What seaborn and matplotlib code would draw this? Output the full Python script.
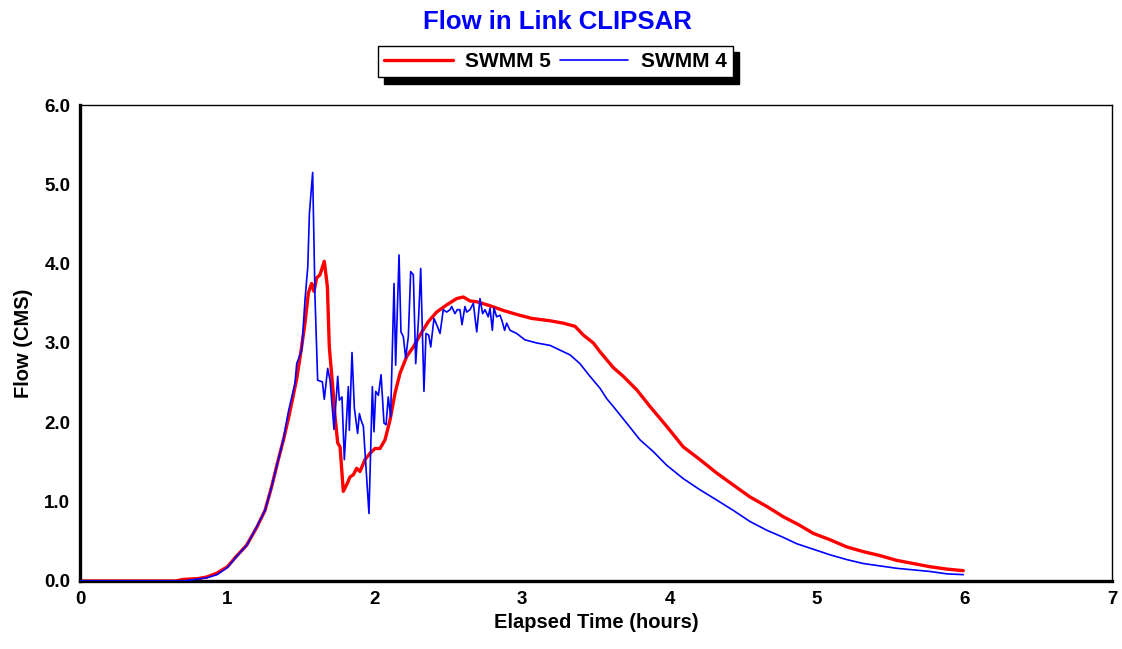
import numpy as np
import pandas as pd
import matplotlib
matplotlib.use("Agg")
import matplotlib.pyplot as plt
import seaborn as sns

# SWMM 5 flow (hours, CMS)
swmm5_t = [0.0, 0.65, 0.70, 0.80, 0.86, 0.93, 1.00, 1.06, 1.13, 1.20, 1.255, 1.30, 1.345,
           1.38, 1.42, 1.47, 1.50, 1.526, 1.549, 1.571, 1.587, 1.605, 1.628, 1.657, 1.678,
           1.691, 1.714, 1.730, 1.748, 1.764, 1.786, 1.813, 1.831, 1.854, 1.877, 1.899,
           1.933, 1.967, 2.001, 2.035, 2.069, 2.103, 2.137, 2.171, 2.216, 2.261, 2.306,
           2.363, 2.419, 2.487, 2.555, 2.600, 2.645, 2.691, 2.781, 2.871, 2.962, 3.064,
           3.188, 3.278, 3.358, 3.414, 3.482, 3.527, 3.572, 3.617, 3.685, 3.776, 3.866,
           3.979, 4.092, 4.205, 4.319, 4.431, 4.544, 4.658, 4.770, 4.874, 4.974, 5.087,
           5.200, 5.313, 5.426, 5.539, 5.652, 5.765, 5.879, 5.991]
swmm5_q = [0.0, 0.0, 0.02, 0.03, 0.05, 0.10, 0.18, 0.31, 0.45, 0.68, 0.89, 1.19, 1.53,
           1.78, 2.10, 2.55, 2.91, 3.25, 3.63, 3.75, 3.65, 3.82, 3.86, 4.03, 3.71,
           2.95, 2.45, 2.07, 1.74, 1.69, 1.13, 1.23, 1.31, 1.34, 1.42, 1.38,
           1.53, 1.61, 1.67, 1.67, 1.78, 2.03, 2.37, 2.62, 2.83, 2.95, 3.10,
           3.27, 3.39, 3.48, 3.56, 3.58, 3.53, 3.52, 3.47, 3.41, 3.36, 3.31,
           3.28, 3.25, 3.21, 3.10, 3.00, 2.89, 2.79, 2.69, 2.58, 2.41, 2.20,
           1.95, 1.69, 1.53, 1.36, 1.21, 1.06, 0.94, 0.81, 0.71, 0.60, 0.52,
           0.43, 0.37, 0.32, 0.26, 0.22, 0.18, 0.15, 0.13]

# SWMM 4 flow (hours, CMS)
swmm4_t = [0.0, 0.70, 0.78, 0.86, 0.93, 1.00, 1.063, 1.131, 1.198, 1.255, 1.300, 1.345,
           1.379, 1.413, 1.458, 1.470, 1.504, 1.526, 1.545, 1.556, 1.578, 1.594, 1.612,
           1.644, 1.657, 1.680, 1.696, 1.723, 1.748, 1.759, 1.777, 1.793, 1.820, 1.827,
           1.845, 1.861, 1.883, 1.895, 1.906, 1.922, 1.960, 1.983, 1.994, 2.006, 2.024,
           2.042, 2.062, 2.076, 2.091, 2.107, 2.130, 2.141, 2.164, 2.177, 2.193, 2.209,
           2.227, 2.243, 2.261, 2.277, 2.297, 2.311, 2.333, 2.347, 2.365, 2.379, 2.401,
           2.424, 2.442, 2.464, 2.487, 2.510, 2.521, 2.543, 2.559, 2.577, 2.591, 2.611,
           2.623, 2.645, 2.668, 2.691, 2.713, 2.731, 2.747, 2.769, 2.781, 2.797, 2.808,
           2.826, 2.849, 2.864, 2.880, 2.894, 2.917, 2.962, 3.018, 3.098, 3.188, 3.256,
           3.324, 3.391, 3.459, 3.527, 3.572, 3.617, 3.708, 3.798, 3.889, 3.979, 4.092,
           4.205, 4.319, 4.431, 4.544, 4.658, 4.770, 4.861, 4.974, 5.087, 5.200, 5.313,
           5.426, 5.539, 5.652, 5.765, 5.879, 5.991]
swmm4_q = [0.0, 0.0, 0.02, 0.04, 0.08, 0.17, 0.31, 0.45, 0.68, 0.89, 1.19, 1.53,
           1.78, 2.13, 2.49, 2.74, 2.91, 3.54, 3.96, 4.63, 5.15, 3.58, 2.53,
           2.51, 2.29, 2.68, 2.53, 1.91, 2.58, 2.28, 2.32, 1.53, 2.45, 1.90,
           2.88, 2.18, 1.86, 2.11, 2.03, 1.95, 0.85, 2.45, 1.88, 2.39, 2.34,
           2.60, 1.99, 1.97, 2.32, 2.07, 3.75, 2.72, 4.11, 3.14, 3.08, 2.81,
           3.08, 3.90, 3.86, 2.74, 3.33, 3.94, 2.39, 3.12, 3.10, 2.95, 3.31,
           3.21, 3.12, 3.42, 3.39, 3.42, 3.46, 3.37, 3.42, 3.42, 3.23, 3.46,
           3.39, 3.42, 3.50, 3.14, 3.56, 3.37, 3.42, 3.33, 3.44, 3.16, 3.44,
           3.33, 3.35, 3.27, 3.16, 3.25, 3.16, 3.12, 3.04, 3.00, 2.97, 2.91,
           2.85, 2.74, 2.58, 2.43, 2.30, 2.20, 1.99, 1.78, 1.63, 1.46, 1.29,
           1.15, 1.02, 0.89, 0.75, 0.64, 0.55, 0.47, 0.40, 0.33, 0.27, 0.22,
           0.19, 0.16, 0.14, 0.12, 0.09, 0.08]

x_ticks = [0, 1, 2, 3, 4, 5, 6, 7]
y_ticks = [0.0, 1.0, 2.0, 3.0, 4.0, 5.0, 6.0]

sns.set_style("white")
plt.rcParams['font.family'] = ['Liberation Sans', 'DejaVu Sans']
plt.rcParams['font.weight'] = 'bold'
plt.rcParams['text.color'] = 'black'
plt.rcParams['axes.labelcolor'] = 'black'
plt.rcParams['xtick.labelcolor'] = 'black'
plt.rcParams['ytick.labelcolor'] = 'black'

fig = plt.figure(figsize=(11.22, 6.49), dpi=100)
ax = fig.add_axes([0.0713, 0.1048, 0.9198, 0.7334])

sns.lineplot(x=swmm5_t, y=swmm5_q, ax=ax, color="#ff0000", linewidth=2.4,
             estimator=None, sort=False, label="SWMM 5", zorder=2)
sns.lineplot(x=swmm4_t, y=swmm4_q, ax=ax, color="#0000ff", linewidth=1.2,
             estimator=None, sort=False, label="SWMM 4", zorder=3)
ax.get_legend().remove()

ax.set_xlim(0, 7)
ax.set_ylim(0, 6)
ax.set_xticks(x_ticks)
ax.set_xticklabels([str(v) for v in x_ticks])
ax.set_yticks(y_ticks)
ax.set_yticklabels([f"{v:.1f}" for v in y_ticks])
ax.tick_params(axis='both', direction='out', length=5, width=1, color='#909090',
               labelsize=13.5, pad=2, labelcolor='black')
for lab in ax.get_xticklabels() + ax.get_yticklabels():
    lab.set_fontweight('bold')

for side in ['left', 'bottom']:
    ax.spines[side].set_linewidth(2.4)
    ax.spines[side].set_color('black')
for side in ['top', 'right']:
    ax.spines[side].set_linewidth(1.0)
    ax.spines[side].set_color('black')
    ax.spines[side].set_visible(True)

ax.set_xlabel("Elapsed Time (hours)", fontsize=14.5, fontweight='bold', labelpad=4,
              color='black')
ax.set_ylabel("Flow (CMS)", fontsize=14.5, fontweight='bold', labelpad=8,
              color='black')

fig.text(0.497, 0.966, "Flow in Link CLIPSAR", ha='center', va='center',
         fontsize=18.5, fontweight='bold', color='#0000ff')

handles, labels = ax.get_lines(), ["SWMM 5", "SWMM 4"]
leg = fig.legend(handles[:2], labels, loc='center', bbox_to_anchor=(0.495, 0.905),
                 ncol=2, frameon=True, fancybox=False, edgecolor='black',
                 framealpha=1, fontsize=15, handlelength=3.3, columnspacing=0.4,
                 handletextpad=0.6, borderpad=0.3,
                 shadow={'ox': 4.5, 'oy': -4.5, 'facecolor': 'black',
                         'edgecolor': 'black', 'alpha': 1})
leg.get_frame().set_linewidth(1.0)
for t in leg.get_texts():
    t.set_fontweight('bold')
    t.set_color('black')

fig.savefig("out.png", dpi=100, facecolor='white')
